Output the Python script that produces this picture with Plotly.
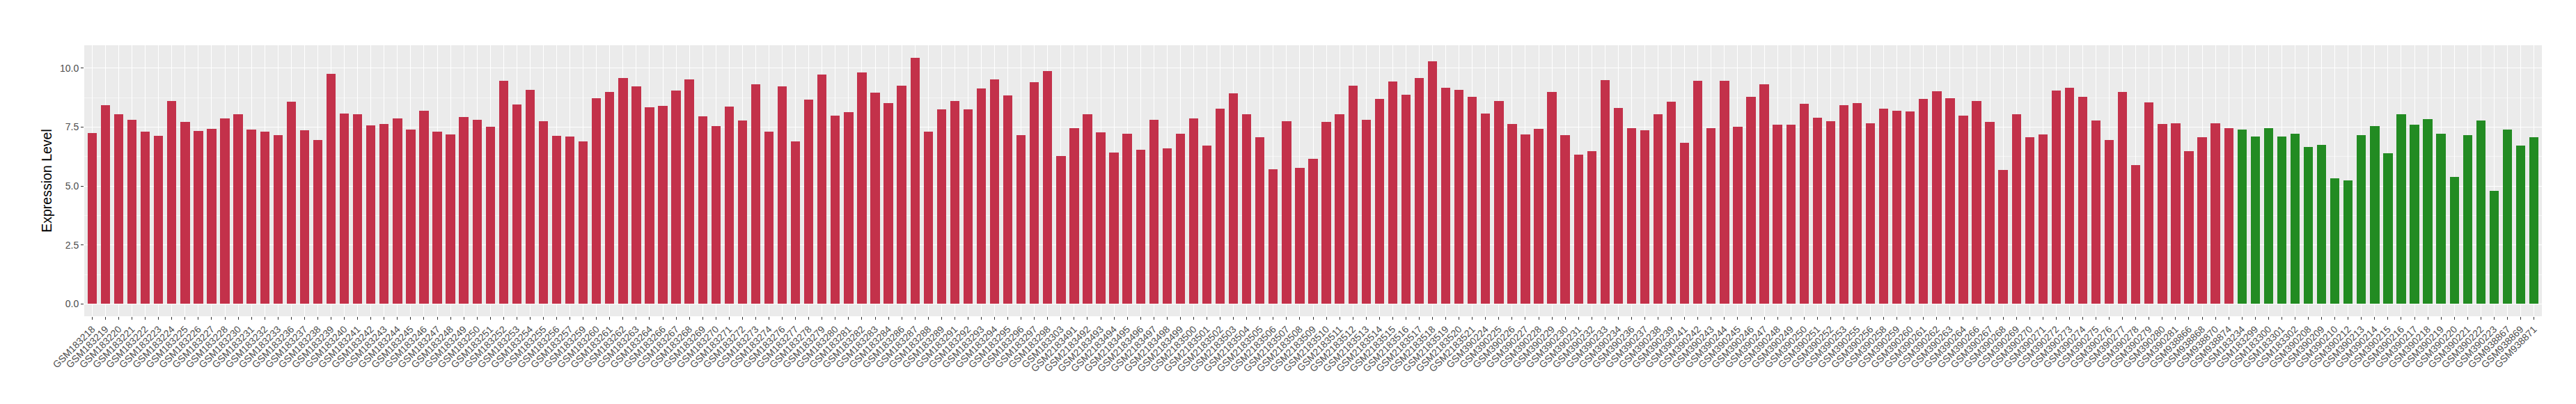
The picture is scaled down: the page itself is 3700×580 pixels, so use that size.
import plotly.graph_objects as go

red_samples = [
    "GSM183218","GSM183219","GSM183220","GSM183221","GSM183222","GSM183223","GSM183224","GSM183225",
    "GSM183226","GSM183227","GSM183228","GSM183230","GSM183231","GSM183232","GSM183233","GSM183236",
    "GSM183237","GSM183238","GSM183239","GSM183240","GSM183241","GSM183242","GSM183243","GSM183244",
    "GSM183245","GSM183246","GSM183247","GSM183248","GSM183249","GSM183250","GSM183251","GSM183252",
    "GSM183253","GSM183254","GSM183255","GSM183256","GSM183257","GSM183259","GSM183260","GSM183261",
    "GSM183262","GSM183263","GSM183264","GSM183266","GSM183267","GSM183268","GSM183269","GSM183270",
    "GSM183271","GSM183272","GSM183273","GSM183274","GSM183276","GSM183277","GSM183278","GSM183279",
    "GSM183280","GSM183281","GSM183282","GSM183283","GSM183284","GSM183286","GSM183287","GSM183288",
    "GSM183289","GSM183291","GSM183292","GSM183293","GSM183294","GSM183295","GSM183296","GSM183297",
    "GSM183298","GSM183303",
    "GSM2183491","GSM2183492","GSM2183493","GSM2183494","GSM2183495","GSM2183496","GSM2183497",
    "GSM2183498","GSM2183499","GSM2183500","GSM2183501","GSM2183502","GSM2183503","GSM2183504",
    "GSM2183505","GSM2183506","GSM2183507","GSM2183508","GSM2183509","GSM2183510","GSM2183511",
    "GSM2183512","GSM2183513","GSM2183514","GSM2183515","GSM2183516","GSM2183517","GSM2183518",
    "GSM2183519","GSM2183520","GSM2183521",
    "GSM390224","GSM390225","GSM390226","GSM390227","GSM390228","GSM390229","GSM390230","GSM390231",
    "GSM390232","GSM390233","GSM390234","GSM390236","GSM390237","GSM390238","GSM390239","GSM390241",
    "GSM390242","GSM390243","GSM390244","GSM390245","GSM390246","GSM390247","GSM390248","GSM390249",
    "GSM390250","GSM390251","GSM390252","GSM390253","GSM390255","GSM390256","GSM390258","GSM390259",
    "GSM390260","GSM390261","GSM390262","GSM390263","GSM390264","GSM390266","GSM390267","GSM390268",
    "GSM390269","GSM390270","GSM390271","GSM390272","GSM390273","GSM390274","GSM390275","GSM390276",
    "GSM390277","GSM390278","GSM390279","GSM390280","GSM390281",
    "GSM938866","GSM938868","GSM938870","GSM938874",
]
red_values = [
    7.24, 8.42, 8.04, 7.80, 7.30, 7.12, 8.60, 7.71,
    7.33, 7.42, 7.86, 8.06, 7.39, 7.30, 7.15, 8.57,
    7.36, 6.94, 9.77, 8.09, 8.04, 7.56, 7.62, 7.86,
    7.39, 8.18, 7.30, 7.18, 7.92, 7.80, 7.50, 9.45,
    8.45, 9.07, 7.74, 7.12, 7.09, 6.89, 8.74, 8.98,
    9.57, 9.24, 8.33, 8.39, 9.04, 9.51, 7.95, 7.53,
    8.36, 7.77, 9.33, 7.30, 9.24, 6.89, 8.68, 9.74,
    7.98, 8.12, 9.83, 8.95, 8.51, 9.27, 10.45, 7.30,
    8.24, 8.60, 8.24, 9.13, 9.51, 8.83, 7.15, 9.39,
    9.89, 6.27,
    7.45, 8.06, 7.27, 6.41, 7.21, 6.53, 7.80,
    6.59, 7.21, 7.86, 6.71, 8.27, 8.92, 8.04,
    7.06, 5.71, 7.74, 5.77, 6.15, 7.71, 8.06,
    9.27, 7.80, 8.71, 9.42, 8.86, 9.57, 10.30,
    9.16, 9.07, 8.77,
    8.09, 8.62, 7.62, 7.18, 7.42, 8.98, 7.15, 6.33,
    6.47, 9.48, 8.30, 7.45, 7.36, 8.06, 8.57, 6.83,
    9.45, 7.45, 9.45, 7.50, 8.77, 9.33, 7.59, 7.59,
    8.48, 7.89, 7.74, 8.42, 8.51, 7.65, 8.27, 8.18,
    8.15, 8.71, 9.01, 8.74, 7.98, 8.60, 7.71, 5.68,
    8.06, 7.06, 7.18, 9.04, 9.16, 8.77, 7.77, 6.94,
    8.98, 5.88, 8.54, 7.62, 7.65,
    6.47, 7.06, 7.65, 7.45,
]

green_samples = [
    "GSM183234","GSM183299","GSM183300","GSM183301","GSM183302",
    "GSM390208","GSM390209","GSM390210","GSM390212","GSM390213","GSM390214","GSM390215",
    "GSM390216","GSM390217","GSM390218","GSM390219","GSM390220","GSM390221","GSM390222",
    "GSM390223","GSM938867","GSM938869","GSM938871",
]
green_values = [
    7.39, 7.09, 7.45, 7.09, 7.21,
    6.65, 6.74, 5.32, 5.24, 7.15, 7.53, 6.39,
    8.06, 7.59, 7.83, 7.21, 5.38, 7.15, 7.77,
    4.79, 7.39, 6.71, 7.06,
]

y_ticks = [0, 2.5, 5, 7.5, 10]
y_ticklabels = ["0.0", "2.5", "5.0", "7.5", "10.0"]

all_samples = red_samples + green_samples

fig = go.Figure()
fig.add_trace(go.Bar(x=red_samples, y=red_values, marker_color="#C3314A",
                     marker_line_width=0, width=0.7, showlegend=False))
fig.add_trace(go.Bar(x=green_samples, y=green_values, marker_color="#228B22",
                     marker_line_width=0, width=0.7, showlegend=False))

fig.update_layout(
    width=3700, height=580,
    margin=dict(l=113, r=57, t=57, b=134, autoexpand=False),
    paper_bgcolor="white", plot_bgcolor="#EBEBEB",
    barmode="overlay", bargap=0,
    font=dict(family="Liberation Sans, Arial, sans-serif", color="#4D4D4D"),
)
fig.update_xaxes(
    type="category", categoryorder="array", categoryarray=all_samples,
    range=[-0.6, len(all_samples) - 0.4],
    tickmode="linear", tick0=0, dtick=1,
    tickangle=-45, tickfont=dict(size=14, color="#4D4D4D"),
    ticks="outside", ticklen=4, tickcolor="#333333", tickwidth=1,
    showgrid=True, gridcolor="white", gridwidth=1.2,
    zeroline=False, showline=False, automargin=False,
)
fig.update_yaxes(
    range=[-0.52, 10.97],
    tickmode="array", tickvals=y_ticks, ticktext=y_ticklabels,
    tickfont=dict(size=14, color="#4D4D4D"),
    ticks="outside", ticklen=4, tickcolor="#333333", tickwidth=1,
    showgrid=True, gridcolor="white", gridwidth=1.2,
    minor=dict(dtick=1.25, tick0=0, showgrid=True, gridcolor="#F5F5F5", gridwidth=0.6),
    zeroline=False, showline=False, automargin=False,
    title=dict(text="Expression Level", font=dict(size=19.5, color="black"), standoff=6),
)

fig.write_html("out.html")
